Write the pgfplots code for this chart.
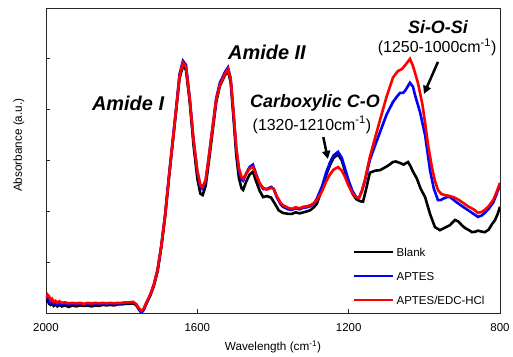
\documentclass[border=0pt]{standalone}
\usepackage{pgfplots}
\pgfplotsset{compat=1.18}
\usepackage{pgfplotstable}
\usepackage{fontspec}
\setmainfont{Liberation Sans}
\usetikzlibrary{arrows.meta}

\pgfplotstableread{
w A
2000 0.22
1996 0.26
1992 0.18
1988 0.16
1984 0.19
1980 0.14
1975 0.17
1970 0.13
1965 0.16
1958 0.13
1950 0.15
1940 0.12
1930 0.15
1920 0.13
1910 0.15
1900 0.14
1890 0.15
1880 0.13
1870 0.15
1860 0.14
1850 0.16
1840 0.15
1830 0.16
1820 0.15
1810 0.17
1800 0.17
1790 0.18
1780 0.18
1770 0.19
1762 0.16
1755 0.08
1748 0.02
1742 0.06
1735 0.18
1725 0.33
1715 0.53
1705 0.82
1695 1.30
1685 1.90
1675 2.65
1665 3.35
1655 4.05
1647 4.62
1638 4.86
1630 4.78
1620 4.15
1610 3.30
1600 2.65
1592 2.35
1586 2.32
1578 2.50
1570 2.95
1560 3.55
1550 4.15
1540 4.48
1535 4.55
1527 4.68
1519 4.76
1512 4.55
1505 3.90
1497 3.10
1490 2.65
1483 2.45
1479 2.42
1470 2.60
1462 2.72
1453 2.78
1445 2.60
1435 2.40
1426 2.28
1416 2.30
1405 2.27
1395 2.15
1385 2.02
1374 1.97
1360 1.95
1350 1.95
1340 1.98
1330 1.96
1320 1.98
1310 2.00
1302 2.02
1292 2.08
1284 2.15
1270 2.45
1260 2.70
1250 2.90
1240 3.05
1228 3.12
1218 3.00
1210 2.80
1200 2.55
1190 2.35
1180 2.24
1170 2.20
1162 2.19
1155 2.40
1144 2.76
1130 2.80
1117 2.81
1100 2.88
1090 2.93
1083 2.97
1075 2.98
1064 2.95
1055 2.92
1048 2.95
1043 2.97
1036 2.88
1030 2.78
1020 2.65
1010 2.45
998 2.28
985 1.95
972 1.69
959 1.63
945 1.68
932 1.73
919 1.83
910 1.80
900 1.72
892 1.67
880 1.62
874 1.59
865 1.60
858 1.62
848 1.60
840 1.59
830 1.64
820 1.76
813 1.83
806 1.95
800 2.09
}\blank

\pgfplotstableread{
w A
2000 0.26
1996 0.33
1992 0.22
1988 0.20
1984 0.24
1980 0.18
1975 0.20
1970 0.16
1965 0.19
1958 0.17
1950 0.18
1940 0.16
1930 0.18
1920 0.17
1910 0.18
1900 0.16
1890 0.18
1880 0.16
1870 0.18
1860 0.17
1850 0.18
1840 0.17
1830 0.19
1820 0.18
1810 0.19
1800 0.19
1790 0.20
1780 0.20
1770 0.21
1762 0.17
1755 0.08
1748 0.00
1742 0.06
1735 0.19
1725 0.35
1715 0.56
1705 0.86
1695 1.34
1685 1.95
1675 2.70
1665 3.40
1655 4.10
1647 4.70
1638 4.96
1630 4.88
1620 4.22
1610 3.40
1600 2.78
1592 2.48
1586 2.44
1578 2.60
1570 3.05
1560 3.64
1550 4.23
1540 4.54
1535 4.61
1527 4.74
1519 4.83
1512 4.62
1505 4.00
1497 3.22
1490 2.80
1483 2.62
1479 2.60
1470 2.76
1462 2.87
1453 2.92
1445 2.74
1435 2.54
1426 2.44
1416 2.44
1405 2.48
1398 2.44
1390 2.28
1380 2.14
1374 2.09
1360 2.04
1350 2.03
1340 2.06
1330 2.04
1320 2.07
1310 2.08
1302 2.10
1292 2.15
1284 2.25
1270 2.50
1260 2.75
1250 2.95
1240 3.10
1228 3.17
1218 3.05
1210 2.85
1200 2.60
1190 2.40
1180 2.28
1173 2.26
1165 2.40
1157 2.60
1144 3.01
1130 3.30
1117 3.56
1100 3.90
1083 4.15
1070 4.28
1064 4.33
1056 4.33
1050 4.38
1038 4.53
1030 4.45
1025 4.30
1011 3.94
998 3.50
985 2.81
975 2.45
964 2.22
957 2.22
950 2.25
940 2.28
932 2.28
915 2.18
898 2.09
880 2.00
870 1.95
858 1.89
848 1.92
840 1.97
830 2.05
818 2.17
810 2.32
800 2.52
}\aptes

\pgfplotstableread{
w A
2000 0.30
1996 0.36
1992 0.33
1988 0.25
1984 0.28
1980 0.22
1975 0.24
1970 0.20
1965 0.23
1958 0.20
1950 0.21
1940 0.19
1930 0.20
1920 0.19
1910 0.20
1900 0.18
1890 0.20
1880 0.19
1870 0.20
1860 0.19
1850 0.20
1840 0.19
1830 0.20
1820 0.19
1810 0.20
1800 0.20
1790 0.21
1780 0.21
1770 0.22
1762 0.18
1755 0.10
1748 0.04
1742 0.08
1735 0.20
1725 0.35
1715 0.55
1705 0.85
1695 1.33
1685 1.93
1675 2.68
1665 3.38
1655 4.08
1647 4.66
1638 4.92
1630 4.84
1620 4.20
1610 3.40
1600 2.80
1592 2.52
1586 2.48
1578 2.62
1570 3.05
1560 3.62
1550 4.20
1540 4.50
1535 4.57
1527 4.70
1519 4.80
1512 4.60
1505 4.00
1497 3.25
1490 2.85
1483 2.67
1479 2.64
1470 2.75
1462 2.84
1453 2.87
1445 2.72
1435 2.55
1426 2.46
1416 2.43
1405 2.46
1398 2.44
1390 2.30
1380 2.17
1374 2.12
1360 2.07
1350 2.05
1340 2.08
1330 2.06
1320 2.09
1310 2.10
1302 2.12
1292 2.16
1284 2.22
1270 2.40
1260 2.58
1250 2.72
1240 2.82
1228 2.87
1218 2.80
1210 2.68
1200 2.50
1190 2.36
1180 2.28
1173 2.26
1165 2.40
1157 2.62
1144 3.07
1130 3.45
1117 3.80
1100 4.25
1083 4.63
1070 4.76
1059 4.80
1050 4.88
1038 5.00
1030 4.86
1017 4.53
1005 4.10
998 3.74
990 3.30
980 2.87
972 2.60
964 2.42
955 2.34
945 2.32
932 2.30
920 2.27
910 2.23
898 2.17
885 2.10
870 2.04
858 1.97
848 1.99
840 2.03
830 2.10
818 2.22
810 2.36
800 2.56
}\edc

\begin{document}
\begin{tikzpicture}
\useasboundingbox (-46bp,-44bp) rectangle (467bp,313bp);
\begin{axis}[
  scale only axis,
  width=454bp, height=305bp,
  x dir=reverse,
  xmin=800, xmax=2000, ymin=0, ymax=6,
  xtick={800,1200,1600,2000},
  ytick={1,2,3,4,5},
  yticklabels={},
  tick pos=left,
  tick align=inside,
  major tick length=4bp,
  axis line style={black!85, line width=0.8bp},
  every tick/.style={black!85, line width=0.8bp},
  /pgf/number format/assume math mode=true,
  /pgf/number format/set thousands separator={},
  xticklabel style={font=\fontsize{11.5}{13}\selectfont, anchor=center, yshift=-15bp},
  xlabel={Wavelength (cm\textsuperscript{-1})},
  ylabel={Absorbance (a.u.)},
  label style={font=\fontsize{11.8}{14}\selectfont},
  xlabel style={at={(axis description cs:0.5,-0.111)}, anchor=center},
  ylabel style={at={(axis description cs:-0.06,0.55)}, anchor=center},
  legend style={at={(axis description cs:0.676,0.222)}, anchor=north west,
    draw=none, fill=none, inner sep=0pt, row sep=11bp, column sep=0pt,
    font=\fontsize{11.5}{13}\selectfont,
    nodes={inner sep=2bp, text height=9bp, text depth=0bp}},
  legend cell align=left,
  legend image code/.code={\draw[#1] (0bp,0bp) -- (39bp,0bp);},
]
\addplot[black, line width=2.6bp] table[x=w,y=A] {\blank};
\addlegendentry{Blank}
\addplot[blue, line width=2.6bp] table[x=w,y=A] {\aptes};
\addlegendentry{APTES}
\addplot[red, line width=2.6bp] table[x=w,y=A] {\edc};
\addlegendentry{APTES/EDC-HCl}

\node[font=\fontsize{20}{24}\selectfont\bfseries\itshape] at (axis cs:1783,4.13) {Amide I};
\node[font=\fontsize{20}{24}\selectfont\bfseries\itshape] at (axis cs:1416,5.12) {Amide II};
\node[font=\fontsize{18}{22}\selectfont\bfseries\itshape] at (axis cs:1289,4.13) {Carboxylic C-O};
\node[font=\fontsize{16}{19}\selectfont] at (axis cs:1297,3.70) {(1320-1210cm\textsuperscript{-1})};
\node[font=\fontsize{18}{22}\selectfont\bfseries\itshape] at (axis cs:964,5.63) {Si-O-Si};
\node[font=\fontsize{16}{19}\selectfont] at (axis cs:966,5.22) {(1250-1000cm\textsuperscript{-1})};
\draw[line width=2.5bp, -{Triangle[length=8bp,width=8bp]}] (axis cs:1267,3.46) -- (axis cs:1255,3.03);
\draw[line width=2.5bp, -{Triangle[length=8bp,width=8bp]}] (axis cs:964,4.94) -- (axis cs:1001,4.31);
\end{axis}
\end{tikzpicture}
\end{document}
